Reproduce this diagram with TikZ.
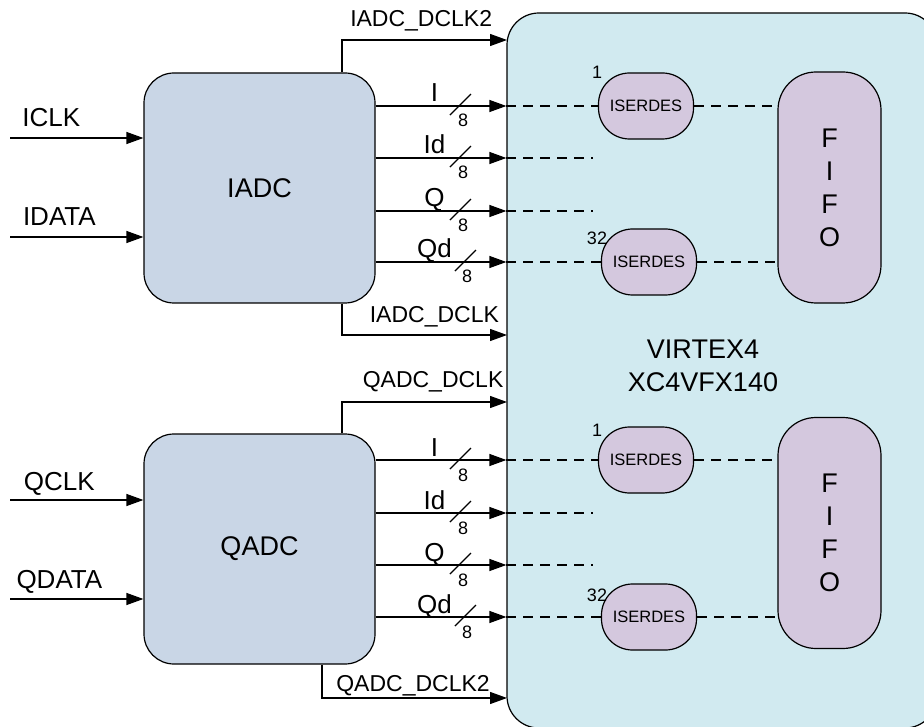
\documentclass[tikz,border=0pt]{standalone}
\usepackage{fontspec}
\setmainfont{Liberation Sans}
\usetikzlibrary{arrows.meta, positioning, calc}

\definecolor{adcfill}{RGB}{201,214,230}
\definecolor{fpgafill}{RGB}{209,234,240}
\definecolor{serfill}{RGB}{212,200,222}

\begin{document}
\begin{tikzpicture}[
            x=1pt, y=-1pt, line width=1.2pt,
            adcbox/.style={rectangle, draw, fill=adcfill, rounded corners=30pt, minimum width=231pt, minimum height=230pt, font=\fontsize{27}{33}\selectfont},
            fpgabox/.style={rectangle, draw, fill=fpgafill, rounded corners=32pt, minimum width=430pt, minimum height=715pt},
            serbox/.style={rectangle, draw, fill=serfill, rounded corners=31pt, minimum width=95pt, minimum height=66pt, inner sep=0pt, font=\fontsize{16.5}{19}\selectfont},
            fifobox/.style={rectangle, draw, fill=serfill, rounded corners=38pt, minimum width=103pt, minimum height=231pt, align=center, font=\fontsize{27}{33}\selectfont},
            big/.style={font=\fontsize{26}{31}\selectfont, inner sep=0pt, anchor=base},
            clk/.style={font=\fontsize{23}{27}\selectfont, inner sep=0pt, anchor=base},
            num/.style={font=\fontsize{18}{21}\selectfont, inner sep=0pt},
            arr/.style={-{Triangle[length=17pt,width=12pt]}},
            dsh/.style={dash pattern=on 10pt off 7pt}
        ]
        \useasboundingbox (0,0) rectangle (924,727);
        \clip (0,0) rectangle (924,727);

        \node[fpgabox] (fpga) at (722,370.5) {};
        \node[adcbox] (iadc) at (259.5,188) {IADC};
        \node[adcbox] (qadc) at (259.5,549) {QADC};
        \node[align=center, inner sep=0pt, font=\fontsize{27}{33}\selectfont] (chip) at (703,366) {VIRTEX4\\XC4VFX140};

        % ISERDES and FIFO blocks
        \node[serbox] (ser1a) at (646,106) {ISERDES};
        \node[serbox] (ser32a) at (649,262) {ISERDES};
        \node[serbox] (ser1b) at (646,460) {ISERDES};
        \node[serbox] (ser32b) at (649,617) {ISERDES};
        \node[num] (n1a) at (597,72) {1};
        \node[num] (n32a) at (597,238) {32};
        \node[num] (n1b) at (597,430) {1};
        \node[num] (n32b) at (597,595) {32};
        \node[fifobox] (fifoa) at (829.5,187.5) {F\\I\\F\\O};
        \node[fifobox] (fifob) at (829.5,533) {F\\I\\F\\O};

        \coordinate (ida) at (593,158);
        \coordinate (qa) at (593,211);
        \coordinate (idb) at (593,513);
        \coordinate (qb) at (593,565);

        % inputs
        \coordinate (iclk) at (10,138);
        \coordinate (idata) at (10,237);
        \coordinate (qclk) at (10,500);
        \coordinate (qdata) at (10,599);
        \draw[arr] (iclk) -- (iclk -| iadc.west) node[big, pos=.31, yshift=11pt] {ICLK};
        \draw[arr] (idata) -- (idata -| iadc.west) node[big, pos=.37, yshift=11pt] {IDATA};
        \draw[arr] (qclk) -- (qclk -| qadc.west) node[big, pos=.37, yshift=10pt] {QCLK};
        \draw[arr] (qdata) -- (qdata -| qadc.west) node[big, pos=.37, yshift=11pt] {QDATA};

        % clocks
        \coordinate (dclk2a) at (507,40);
        \coordinate (dclka) at (507,335);
        \coordinate (dclkb) at (507,402);
        \coordinate (dclk2b) at (507,698);
        \draw[arr] ([xshift=82.5pt]iadc.north) |- (dclk2a) node[clk, pos=.74, yshift=13pt] {IADC\_DCLK2};
        \draw[arr] ([xshift=82.5pt]iadc.south) |- (dclka) node[clk, pos=.78, yshift=12pt] {IADC\_DCLK};
        \draw[arr] ([xshift=82.5pt]qadc.north) |- (dclkb) node[clk, pos=.776, yshift=14pt] {QADC\_DCLK};
        \draw[arr] ([xshift=62.5pt]qadc.south) |- (dclk2b) node[clk, pos=.746, yshift=7pt] {QADC\_DCLK2};

        % IADC buses
        \draw[arr] (iadc.east |- ser1a) -- (fpga.west |- ser1a) node[big, pos=.45, yshift=4pt] {I} node[num, anchor=base, pos=.67, yshift=-21pt] {8};
        \draw ($(fpga.west |- ser1a)+(-56.5,9)$) -- ++(21,-21);
        \draw[arr] (iadc.east |- ida) -- (fpga.west |- ida) node[big, pos=.45, yshift=4pt] {Id} node[num, anchor=base, pos=.67, yshift=-21pt] {8};
        \draw ($(fpga.west |- ida)+(-56.5,9)$) -- ++(21,-21);
        \draw[arr] (iadc.east |- qa) -- (fpga.west |- qa) node[big, pos=.45, yshift=4pt] {Q} node[num, anchor=base, pos=.67, yshift=-21pt] {8};
        \draw ($(fpga.west |- qa)+(-56.5,9)$) -- ++(21,-21);
        \draw[arr] (iadc.east |- ser32a) -- (fpga.west |- ser32a) node[big, pos=.45, yshift=4pt] {Qd} node[num, anchor=base, pos=.70, yshift=-21pt] {8};
        \draw ($(fpga.west |- ser32a)+(-51.5,9)$) -- ++(21,-21);

        % QADC buses
        \draw[arr] (qadc.east |- ser1b) -- (fpga.west |- ser1b) node[big, pos=.45, yshift=4pt] {I} node[num, anchor=base, pos=.67, yshift=-21pt] {8};
        \draw ($(fpga.west |- ser1b)+(-56.5,9)$) -- ++(21,-21);
        \draw[arr] (qadc.east |- idb) -- (fpga.west |- idb) node[big, pos=.45, yshift=4pt] {Id} node[num, anchor=base, pos=.67, yshift=-21pt] {8};
        \draw ($(fpga.west |- idb)+(-56.5,9)$) -- ++(21,-21);
        \draw[arr] (qadc.east |- qb) -- (fpga.west |- qb) node[big, pos=.45, yshift=4pt] {Q} node[num, anchor=base, pos=.67, yshift=-21pt] {8};
        \draw ($(fpga.west |- qb)+(-56.5,9)$) -- ++(21,-21);
        \draw[arr] (qadc.east |- ser32b) -- (fpga.west |- ser32b) node[big, pos=.45, yshift=4pt] {Qd} node[num, anchor=base, pos=.70, yshift=-21pt] {8};
        \draw ($(fpga.west |- ser32b)+(-51.5,9)$) -- ++(21,-21);

        % dashed links inside the FPGA
        \draw[dsh] (fpga.west |- ser1a) -- (ser1a.west);
        \draw[dsh] (fpga.west |- ida) -- (ida);
        \draw[dsh] (fpga.west |- qa) -- (qa);
        \draw[dsh] (fpga.west |- ser32a) -- (ser32a.west);
        \draw[dsh] (ser1a.east) -- (ser1a.east -| fifoa.west);
        \draw[dsh] (ser32a.east) -- (ser32a.east -| fifoa.west);
        \draw[dsh] (fpga.west |- ser1b) -- (ser1b.west);
        \draw[dsh] (fpga.west |- idb) -- (idb);
        \draw[dsh] (fpga.west |- qb) -- (qb);
        \draw[dsh] (fpga.west |- ser32b) -- (ser32b.west);
        \draw[dsh] (ser1b.east) -- (ser1b.east -| fifob.west);
        \draw[dsh] (ser32b.east) -- (ser32b.east -| fifob.west);
    \end{tikzpicture}
\end{document}
